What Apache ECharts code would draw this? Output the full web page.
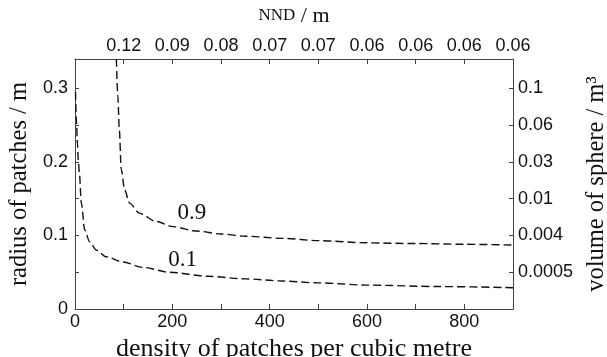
<!DOCTYPE html>
<html>
<head>
<meta charset="utf-8">
<script src="https://cdn.jsdelivr.net/npm/echarts@6/dist/echarts.min.js"></script>
<style>
  html, body { margin: 0; padding: 0; background: #fff; }
  #chart { width: 607px; height: 357px; }
</style>
</head>
<body>
<div id="chart"></div>
<script>
// Patch radius (m) needed at each patch density (patches per m^3), for two probability levels
const density90 = [85, 88, 91, 95, 102, 112, 133, 167, 201, 250, 300, 350, 428, 500, 600, 700, 800, 900];
const radius90  = [0.34, 0.29, 0.245, 0.19, 0.162, 0.144, 0.130, 0.119, 0.112, 0.106, 0.102, 0.099, 0.096, 0.093, 0.090, 0.089, 0.088, 0.087];
const density10 = [1, 3, 5, 7, 9, 13, 20, 30, 44, 64, 98, 140, 194, 273, 350, 428, 500, 600, 750, 900];
const radius10  = [0.295, 0.255, 0.225, 0.2, 0.185, 0.144, 0.1075, 0.0915, 0.080, 0.071, 0.064, 0.0565, 0.050, 0.0445, 0.041, 0.038, 0.0355, 0.0325, 0.0305, 0.029];
const curveNames = ['0.9', '0.1'];

// Top axis: nearest-neighbour distance (m) at each density tick
const nndTicks  = [100, 200, 300, 400, 500, 600, 700, 800, 900];
const nndLabels = ['0.12', '0.09', '0.08', '0.07', '0.07', '0.06', '0.06', '0.06', '0.06'];

// Right axis: sphere volume (m^3) at each radius tick
const volTicks  = [0.05, 0.10, 0.15, 0.20, 0.25, 0.30];
const volLabels = ['0.0005', '0.004', '0.01', '0.03', '0.06', '0.1'];

const SANS = 'Liberation Sans, Arial, sans-serif';
const SERIF = 'Liberation Serif, Times New Roman, serif';
const INK = '#111';
const FRAME = '#444';

function lookup(ticks, labels, v) {
  for (let i = 0; i < ticks.length; i++) {
    if (Math.abs(ticks[i] - v) < 1e-6) return labels[i];
  }
  return '';
}

function pairs(xs, ys) { return xs.map((x, i) => [x, ys[i]]); }

const tickLabelStyle = { fontFamily: SANS, fontSize: 18, color: INK };
const titleStyle = { fontFamily: SERIF, fontSize: 24.5, color: INK };

function curve(name, data, labelAt) {
  return {
    name: name,
    type: 'line',
    xAxisIndex: 0,
    yAxisIndex: 0,
    data: data,
    symbol: 'none',
    smooth: 0.3,
    smoothMonotone: 'x',
    lineStyle: { color: INK, width: 1.4, type: [8, 4] },
    silent: true,
    markPoint: {
      symbol: 'circle',
      symbolSize: 0,
      silent: true,
      data: [{ coord: labelAt, value: name }],
      label: {
        show: true,
        position: 'inside',
        formatter: name,
        fontFamily: SERIF,
        fontSize: 23,
        color: INK
      }
    }
  };
}

const chart = echarts.init(document.getElementById('chart'), null, { renderer: 'canvas' });
chart.setOption({
  animation: false,
  backgroundColor: '#fff',
  grid: { left: 75, right: 94, top: 59, bottom: 48, containLabel: false, outerBoundsMode: 'none' },
  xAxis: [
    {
      type: 'value', position: 'bottom', min: 0, max: 900, interval: 100,
      name: 'density of patches per cubic metre', nameLocation: 'middle', nameGap: 26,
      nameTextStyle: { ...titleStyle, fontSize: 26 },
      axisLine: { show: true, onZero: false, lineStyle: { color: FRAME, width: 1 } },
      axisTick: { show: true, inside: true, length: 5, lineStyle: { color: FRAME } },
      axisLabel: { margin: 4, ...tickLabelStyle, formatter: v => (v % 200 === 0 && v < 900 ? String(v) : '') },
      splitLine: { show: false }
    },
    {
      type: 'value', position: 'top', min: 0, max: 900, interval: 100,
      name: '{sc|NND} / m', nameLocation: 'middle', nameGap: 32,
      nameTextStyle: { ...titleStyle, fontSize: 22, rich: { sc: { fontFamily: SERIF, fontSize: 17, color: INK } } },
      axisLine: { show: true, onZero: false, lineStyle: { color: FRAME, width: 1 } },
      axisTick: { show: true, inside: true, length: 5, lineStyle: { color: FRAME } },
      axisLabel: { margin: 4, ...tickLabelStyle, formatter: v => lookup(nndTicks, nndLabels, v) },
      splitLine: { show: false }
    }
  ],
  yAxis: [
    {
      type: 'value', position: 'left', min: 0, max: 0.34, interval: 0.05,
      name: 'radius of patches / m', nameLocation: 'middle', nameGap: 40, nameRotate: 90,
      nameTextStyle: titleStyle,
      axisLine: { show: true, onZero: false, lineStyle: { color: FRAME, width: 1 } },
      axisTick: { show: true, inside: true, length: 4, lineStyle: { color: FRAME } },
      axisLabel: {
        margin: 7, ...tickLabelStyle,
        formatter: v => {
          const r = Math.round(v * 100) / 100;
          if (Math.abs(r * 10 - Math.round(r * 10)) > 1e-6 || v > 0.31) return '';
          return r === 0 ? '0' : r.toFixed(1);
        }
      },
      splitLine: { show: false }
    },
    {
      type: 'value', position: 'right', min: 0, max: 0.34, interval: 0.05,
      name: 'volume of sphere / m³', nameLocation: 'middle', nameGap: 63, nameRotate: 90,
      nameTextStyle: titleStyle,
      axisLine: { show: true, onZero: false, lineStyle: { color: FRAME, width: 1 } },
      axisTick: { show: true, inside: true, length: 4, lineStyle: { color: FRAME } },
      axisLabel: { margin: 5, ...tickLabelStyle, formatter: v => lookup(volTicks, volLabels, v) },
      splitLine: { show: false }
    }
  ],
  series: [
    curve(curveNames[0], pairs(density90, radius90), [240, 0.131]),
    curve(curveNames[1], pairs(density10, radius10), [221, 0.0665])
  ]
});
</script>
</body>
</html>
